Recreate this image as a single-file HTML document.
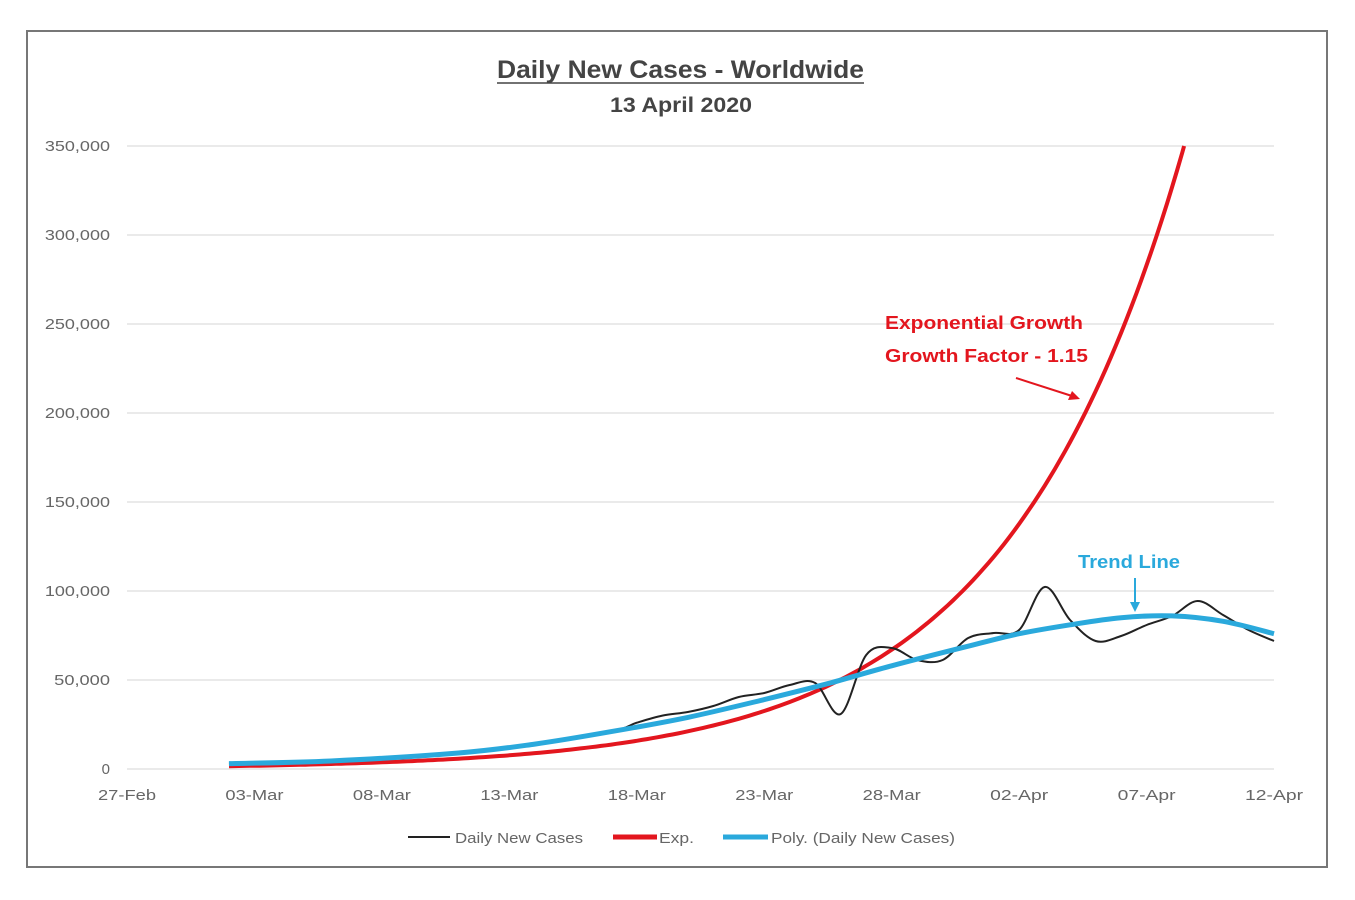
<!DOCTYPE html>
<html><head><meta charset="utf-8"><style>
body{margin:0;background:#fff;}
svg{display:block;font-family:"Liberation Sans",sans-serif;}
</style></head><body>
<svg id="s" width="1355" height="900" viewBox="0 0 1355 900">
<rect x="27" y="31" width="1300" height="836" fill="#fff" stroke="#777" stroke-width="2"/>
<text x="497" y="78" font-size="25" font-weight="bold" fill="#444" textLength="367" lengthAdjust="spacingAndGlyphs">Daily New Cases - Worldwide</text>
<line x1="497" y1="83" x2="864" y2="83" stroke="#444" stroke-width="1.5"/>
<text x="610" y="112" font-size="21" font-weight="bold" fill="#444" textLength="142" lengthAdjust="spacingAndGlyphs">13 April 2020</text>
<g id="grid" stroke="#e3e3e3" stroke-width="1.5"></g>
<g id="yl" font-size="15" fill="#666" text-anchor="end"></g>
<g id="xl" font-size="15" fill="#666" text-anchor="middle"></g>
<path id="exp" fill="none" stroke="#e3161e" stroke-width="4"/>
<path id="daily" fill="none" stroke="#222" stroke-width="2"/>
<path id="poly" fill="none" stroke="#2aa9dc" stroke-width="5"/>
<text x="885" y="329" font-size="18" font-weight="bold" fill="#e3161e" textLength="198" lengthAdjust="spacingAndGlyphs">Exponential Growth</text>
<text x="885" y="362" font-size="18" font-weight="bold" fill="#e3161e" textLength="203" lengthAdjust="spacingAndGlyphs">Growth Factor - 1.15</text>
<line x1="1016" y1="378" x2="1072" y2="396" stroke="#e3161e" stroke-width="2"/>
<polygon points="1080,399 1068,400 1072,391" fill="#e3161e"/>
<text x="1078" y="568" font-size="18" font-weight="bold" fill="#2aa9dc" textLength="102" lengthAdjust="spacingAndGlyphs">Trend Line</text>
<line x1="1135" y1="578" x2="1135" y2="604" stroke="#2aa9dc" stroke-width="2"/>
<polygon points="1135,612 1130,602 1140,602" fill="#2aa9dc"/>
<line x1="408" y1="837" x2="450" y2="837" stroke="#222" stroke-width="2"/>
<text x="455" y="843" font-size="15" fill="#666" textLength="128" lengthAdjust="spacingAndGlyphs">Daily New Cases</text>
<line x1="613" y1="837" x2="657" y2="837" stroke="#e3161e" stroke-width="5"/>
<text x="659" y="843" font-size="15" fill="#666" textLength="35" lengthAdjust="spacingAndGlyphs">Exp.</text>
<line x1="723" y1="837" x2="768" y2="837" stroke="#2aa9dc" stroke-width="5"/>
<text x="771" y="843" font-size="15" fill="#666" textLength="184" lengthAdjust="spacingAndGlyphs">Poly. (Daily New Cases)</text>
</svg>
<script>
var NS="http://www.w3.org/2000/svg";
function el(p,t,a,txt){var e=document.createElementNS(NS,t);for(var k in a)e.setAttribute(k,a[k]);if(txt)e.textContent=txt;document.getElementById(p).appendChild(e);}
function X(d){return 127+d*25.49;}
function Y(v){return 769-v*623/350000;}
var yl=["0","50,000","100,000","150,000","200,000","250,000","300,000","350,000"];
for(var i=0;i<8;i++){var y=Y(i*50000);el("grid","line",{x1:127,x2:1274,y1:y,y2:y});var a={x:110,y:y+5};if(i>0){a.textLength=yl[i].length*9.3;a.lengthAdjust="spacingAndGlyphs";}el("yl","text",a,yl[i]);}
var xl=["27-Feb","03-Mar","08-Mar","13-Mar","18-Mar","23-Mar","28-Mar","02-Apr","07-Apr","12-Apr"];
for(var i=0;i<10;i++){el("xl","text",{x:X(i*5),y:800,textLength:58,lengthAdjust:"spacingAndGlyphs"},xl[i]);}
var d="";for(var t=4;t<=43;t+=0.2){var v=67000*Math.pow(1.155,t-30);if(v>350000){v=350000;t=30+Math.log(350000/67000)/Math.log(1.155);d+="L"+X(t).toFixed(1)+","+Y(v).toFixed(1);break;}d+=(d?"L":"M")+X(t).toFixed(1)+","+Y(v).toFixed(1);}
document.getElementById("exp").setAttribute("d",d);
function cr(pts){var s="M"+pts[0][0]+","+pts[0][1];for(var i=0;i<pts.length-1;i++){var p0=pts[Math.max(0,i-1)],p1=pts[i],p2=pts[i+1],p3=pts[Math.min(pts.length-1,i+2)];
s+="C"+(p1[0]+(p2[0]-p0[0])/6).toFixed(1)+","+(p1[1]+(p2[1]-p0[1])/6).toFixed(1)+" "+(p2[0]-(p3[0]-p1[0])/6).toFixed(1)+","+(p2[1]-(p3[1]-p1[1])/6).toFixed(1)+" "+p2[0].toFixed(1)+","+p2[1].toFixed(1);}return s;}
var pv=[[4,3000],[8,4500],[13,9000],[16,14000],[19,21000],[22,29000],[25,39000],[27.5,48000],[30,58000],[33,69000],[35,76000],[37,81000],[39,85000],[41,86000],[43,83000],[45,76000]];
document.getElementById("poly").setAttribute("d",cr(pv.map(function(p){return [X(p[0]),Y(p[1])];})));
var dp=[[4,3000],[8,4500],[13,9000],[16,14000],[19,21000],[20,26000],[21,30000]].map(function(p){return [X(p[0]),Y(p[1])];});
var raw=[[22,712],[23,706],[24,697],[25,693],[26,685],[27,683],[28,714],[29,655],[30,648],[31,660],[32,660],[33,638],[34,633],[35,630],[36,587],[37,620],[38,641],[39,636],[40,625],[41,616],[42,601],[43,615],[44,630],[45,641]];
raw.forEach(function(p){dp.push([X(p[0]),p[1]]);});
document.getElementById("daily").setAttribute("d",cr(dp));
</script>
</body></html>
